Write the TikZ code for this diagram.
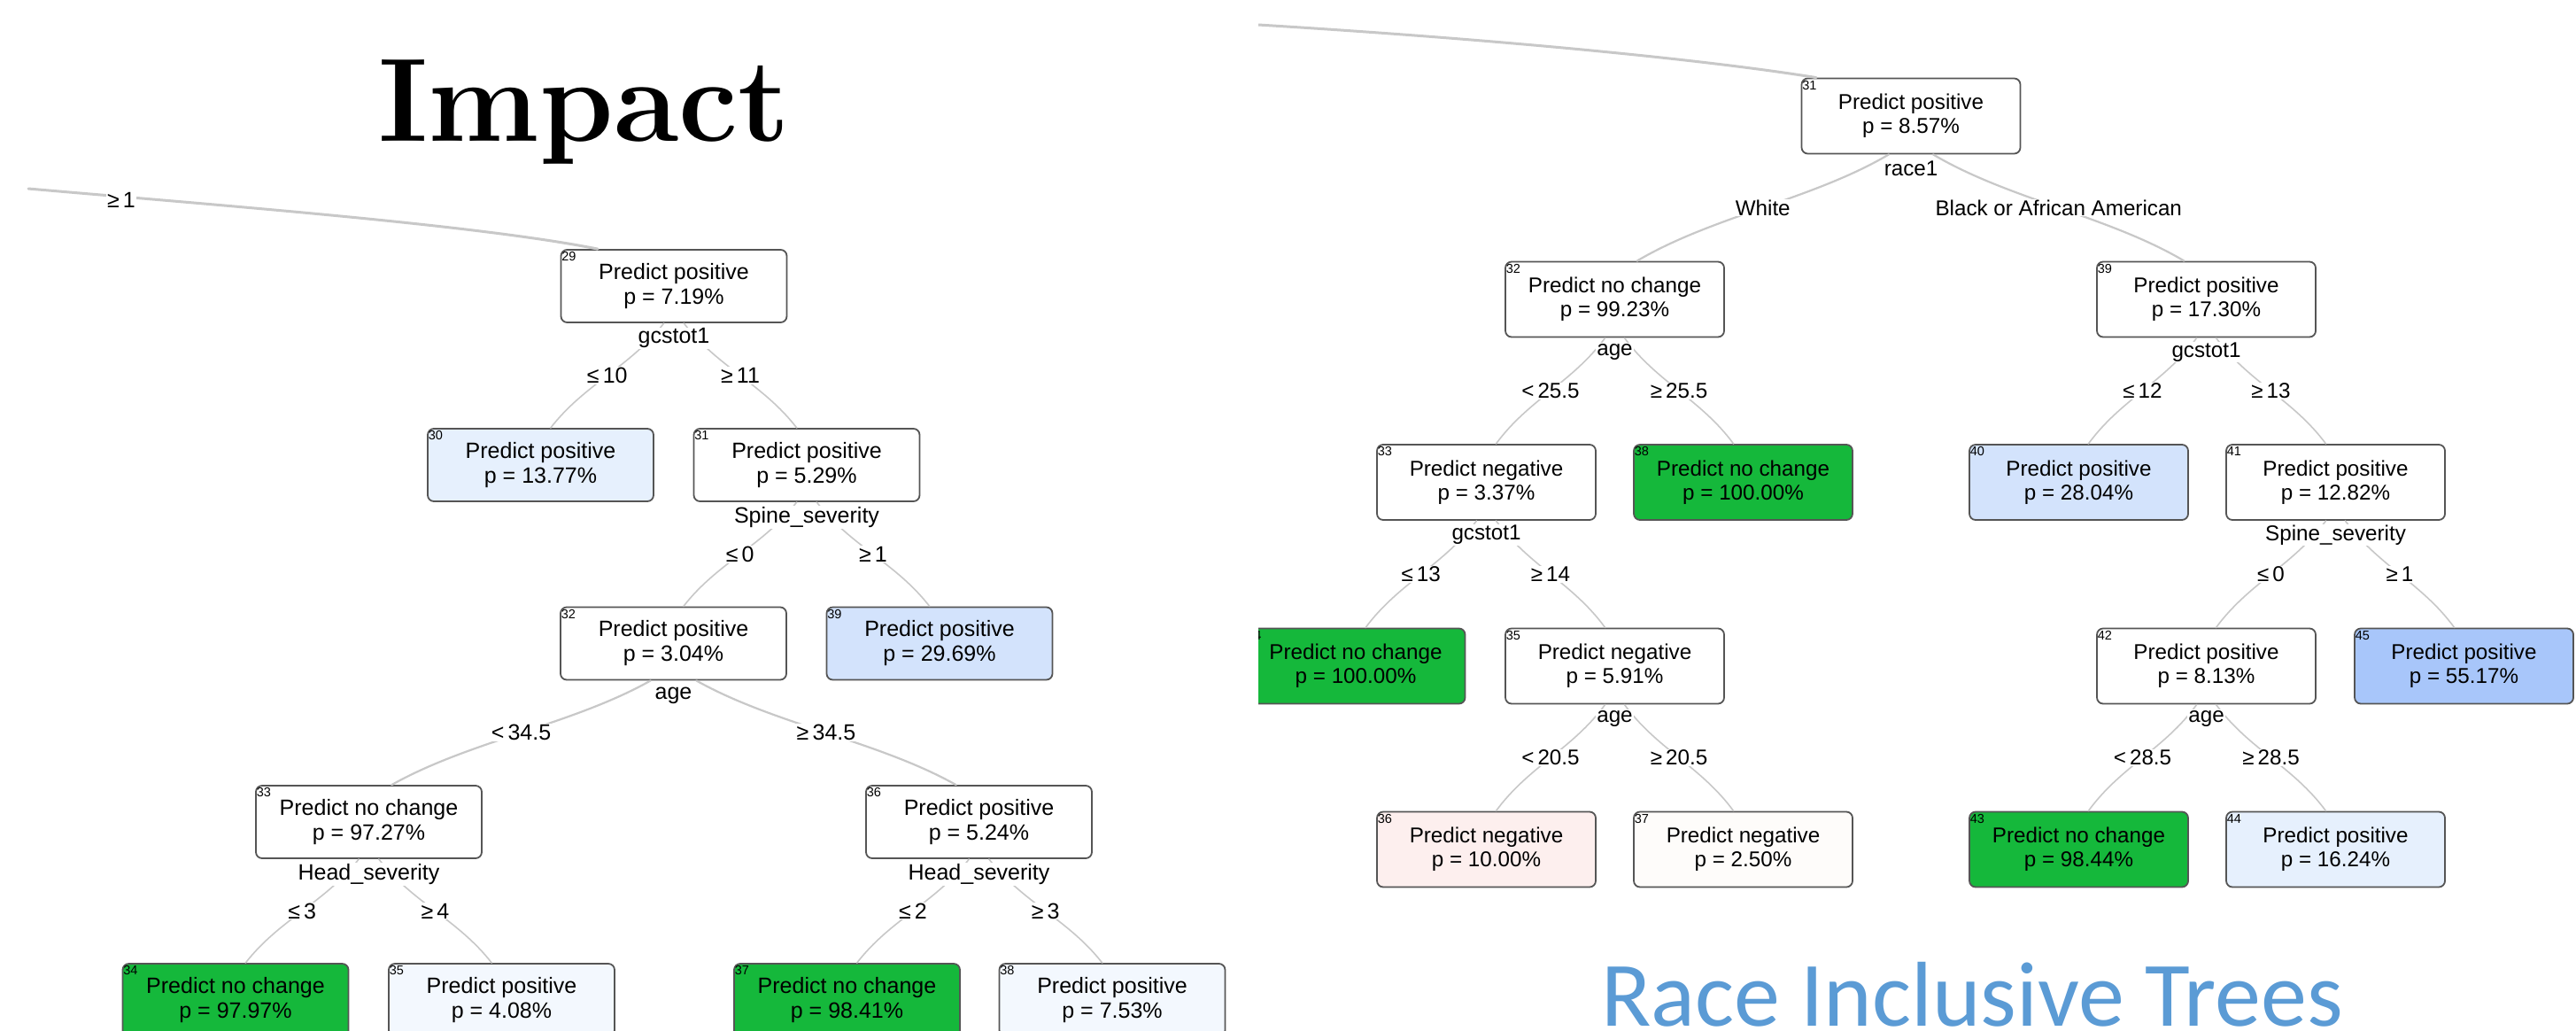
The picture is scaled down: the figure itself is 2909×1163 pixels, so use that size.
\documentclass[tikz,border=0pt]{standalone}
\usepackage{fontspec}
\newfontfamily\lsans{Liberation Sans}
\newfontfamily\carl{Carlito}
\usetikzlibrary{calc}
\definecolor{edgec}{RGB}{200,200,200}
\definecolor{boxc}{RGB}{85,85,85}
\definecolor{gfill}{RGB}{21,184,59}
\definecolor{bfill}{RGB}{211,227,252}
\definecolor{lbfill}{RGB}{230,240,253}
\definecolor{vlbfill}{RGB}{243,248,254}
\definecolor{dbfill}{RGB}{168,198,250}
\definecolor{pkfill}{RGB}{253,239,238}
\definecolor{owfill}{RGB}{254,252,250}
\definecolor{titleblue}{RGB}{91,155,213}
\tikzset{
  tnode/.style={draw=boxc, line width=1.8pt, rounded corners=7pt, fill=white,
    minimum width=255pt, minimum height=82pt, inner sep=0pt, align=center,
    font=\lsans\fontsize{25}{28}\selectfont, text=black},
  rnode/.style={tnode, minimum width=247pt, minimum height=85pt,
    font=\lsans\fontsize{24.2}{27}\selectfont},
  idx/.style={anchor=north west, inner sep=0pt, xshift=1.5pt, yshift=-3.5pt,
    font=\lsans\fontsize{14.5}{15}\selectfont, text=black},
  nn/.style={label={[idx]north west:#1}},
  edge/.style={draw=edgec, line cap=round},
  blab/.style={fill=white, inner sep=1pt, text=black, font=\lsans\fontsize{25}{28}\selectfont},
  rlab/.style={blab, font=\lsans\fontsize{24.2}{27}\selectfont},
}
\newcommand{\tedge}[5]{%
  \draw[edge, line width=#4] let \p1=(#1.south), \p2=(#2.north), \n1={\x2-\x1}, \n2={\y2-\y1} in
    ({\x1+0.075*\n1},\y1) .. controls ({\x1+0.33*\n1},{\y1+0.42*\n2}) and ({\x2-0.33*\n1},{\y2-0.42*\n2}) .. ({\x2-0.075*\n1},\y2)
    node[#5, pos=0.5]{#3};}
\begin{document}
\begin{tikzpicture}[x=1pt, y=-1pt]
\useasboundingbox (0,0) rectangle (2909,1163);
\fill[white] (0,0) rectangle (2909,1163);
\clip (0,0) rectangle (2909,1163);

% ---------------- left tree ----------------
\node[anchor=base, inner sep=0pt, font=\rmfamily\bfseries\fontsize{134}{140}\selectfont] (ttl) at (660,159.5) {Impact};

\node[tnode, nn=29] (L29) at (761,323) {Predict positive\\p = 7.19\%};
\node[tnode, nn=30, fill=lbfill] (L30) at (610.5,525) {Predict positive\\p = 13.77\%};
\node[tnode, nn=31] (L31) at (911,525) {Predict positive\\p = 5.29\%};
\node[tnode, nn=32] (L32) at (760.5,726.5) {Predict positive\\p = 3.04\%};
\node[tnode, nn=39, fill=bfill] (L39) at (1061,726.5) {Predict positive\\p = 29.69\%};
\node[tnode, nn=33] (L33) at (416.5,928) {Predict no change\\p = 97.27\%};
\node[tnode, nn=36] (L36) at (1105.5,928) {Predict positive\\p = 5.24\%};
\node[tnode, nn=34, fill=gfill] (L34) at (266,1129) {Predict no change\\p = 97.97\%};
\node[tnode, nn=35, fill=vlbfill] (L35) at (566.5,1129) {Predict positive\\p = 4.08\%};
\node[tnode, nn=37, fill=gfill] (L37) at (956.5,1129) {Predict no change\\p = 98.41\%};
\node[tnode, nn=38, fill=vlbfill] (L38) at (1256,1129) {Predict positive\\p = 7.53\%};

\coordinate (ltop) at (32,213);
\draw[edge, line width=3pt] (ltop) .. controls (250,232) and (540,254) .. ([xshift=-86pt]L29.north);
\node[blab] (lge1) at (137,226) {≥\,1};

\tedge{L29}{L30}{≤\,10}{1.6pt}{blab}
\tedge{L29}{L31}{≥\,11}{1.6pt}{blab}
\tedge{L31}{L32}{≤\,0}{1.6pt}{blab}
\tedge{L31}{L39}{≥\,1}{1.6pt}{blab}
\tedge{L32}{L33}{<\,34.5}{2.2pt}{blab}
\tedge{L32}{L36}{≥\,34.5}{2.2pt}{blab}
\tedge{L33}{L34}{≤\,3}{1.6pt}{blab}
\tedge{L33}{L35}{≥\,4}{1.6pt}{blab}
\tedge{L36}{L37}{≤\,2}{1.6pt}{blab}
\tedge{L36}{L38}{≥\,3}{1.6pt}{blab}

\node[blab] (sL29) at ([yshift=-17pt]L29.south) {gcstot1};
\node[blab] (sL31) at ([yshift=-17pt]L31.south) {Spine\_severity};
\node[blab] (sL32) at ([yshift=-17pt]L32.south) {age};
\node[blab] (sL33) at ([yshift=-17pt]L33.south) {Head\_severity};
\node[blab] (sL36) at ([yshift=-17pt]L36.south) {Head\_severity};

% ---------------- right tree ----------------
\begin{scope}
\clip (1421,0) rectangle (2909,1163);
\node[rnode, nn=31] (R31) at (2158,131) {Predict positive\\p = 8.57\%};
\node[rnode, nn=32] (R32) at (1823.5,338) {Predict no change\\p = 99.23\%};
\node[rnode, nn=39] (R39) at (2491.5,338) {Predict positive\\p = 17.30\%};
\node[rnode, nn=33] (R33) at (1678.5,544.5) {Predict negative\\p = 3.37\%};
\node[rnode, nn=38, fill=gfill] (R38) at (1968.5,544.5) {Predict no change\\p = 100.00\%};
\node[rnode, nn=40, fill=bfill] (R40) at (2347.5,544.5) {Predict positive\\p = 28.04\%};
\node[rnode, nn=41] (R41) at (2637.5,544.5) {Predict positive\\p = 12.82\%};
\node[rnode, nn=34, fill=gfill] (R34) at (1531,752) {Predict no change\\p = 100.00\%};
\node[rnode, nn=35] (R35) at (1823.5,752) {Predict negative\\p = 5.91\%};
\node[rnode, nn=42] (R42) at (2491.5,752) {Predict positive\\p = 8.13\%};
\node[rnode, nn=45, fill=dbfill] (R45) at (2782.5,752) {Predict positive\\p = 55.17\%};
\node[rnode, nn=36, fill=pkfill] (R36) at (1678.5,959) {Predict negative\\p = 10.00\%};
\node[rnode, nn=37, fill=owfill] (R37) at (1968.5,959) {Predict negative\\p = 2.50\%};
\node[rnode, nn=43, fill=gfill] (R43) at (2347.5,959) {Predict no change\\p = 98.44\%};
\node[rnode, nn=44, fill=lbfill] (R44) at (2637.5,959) {Predict positive\\p = 16.24\%};

\coordinate (rtop) at (1421,28);
\draw[edge, line width=3pt] (rtop) .. controls (1700,45) and (1930,68) .. ([xshift=-107pt]R31.north);

\tedge{R31}{R32}{White}{2.2pt}{rlab}
\tedge{R31}{R39}{Black or African American}{2.2pt}{rlab}
\tedge{R32}{R33}{<\,25.5}{1.6pt}{rlab}
\tedge{R32}{R38}{≥\,25.5}{1.6pt}{rlab}
\tedge{R39}{R40}{≤\,12}{1.6pt}{rlab}
\tedge{R39}{R41}{≥\,13}{1.6pt}{rlab}
\tedge{R33}{R34}{≤\,13}{1.6pt}{rlab}
\tedge{R33}{R35}{≥\,14}{1.6pt}{rlab}
\tedge{R41}{R42}{≤\,0}{1.6pt}{rlab}
\tedge{R41}{R45}{≥\,1}{1.6pt}{rlab}
\tedge{R35}{R36}{<\,20.5}{1.6pt}{rlab}
\tedge{R35}{R37}{≥\,20.5}{1.6pt}{rlab}
\tedge{R42}{R43}{<\,28.5}{1.6pt}{rlab}
\tedge{R42}{R44}{≥\,28.5}{1.6pt}{rlab}

\node[rlab] (sR31) at ([yshift=-16pt]R31.south) {race1};
\node[rlab] (sR32) at ([yshift=-16pt]R32.south) {age};
\node[rlab] (sR39) at ([yshift=-16pt]R39.south) {gcstot1};
\node[rlab] (sR33) at ([yshift=-16pt]R33.south) {gcstot1};
\node[rlab] (sR41) at ([yshift=-16pt]R41.south) {Spine\_severity};
\node[rlab] (sR35) at ([yshift=-16pt]R35.south) {age};
\node[rlab] (sR42) at ([yshift=-16pt]R42.south) {age};
\end{scope}

\node[anchor=base, inner sep=0pt, text=titleblue, font=\carl\fontsize{104}{110}\selectfont] (ttl2) at (2227,1158) {Race Inclusive Trees};
\end{tikzpicture}
\end{document}
